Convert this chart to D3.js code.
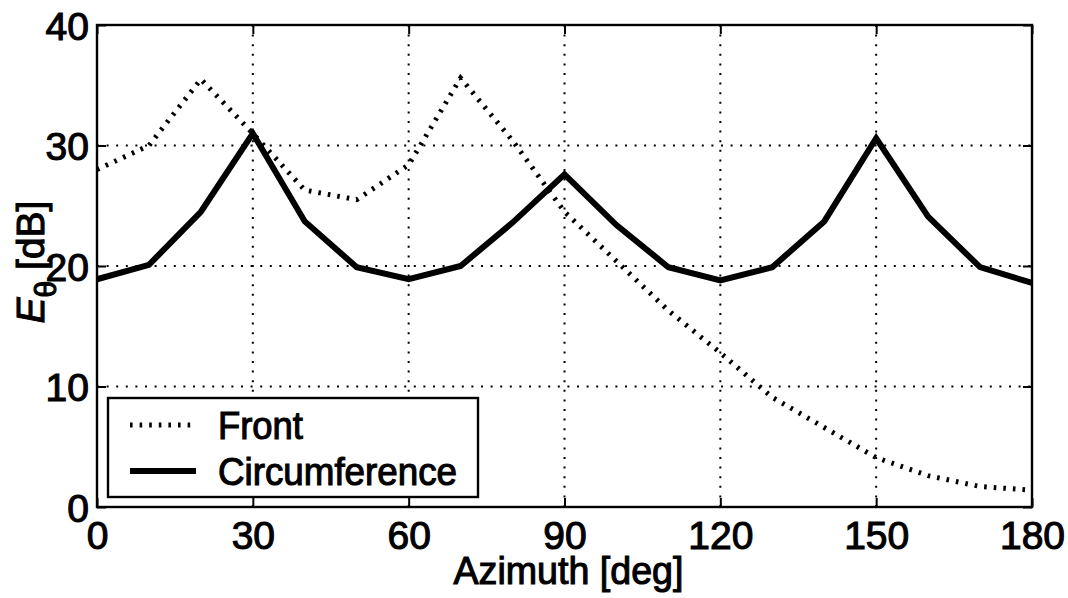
<!DOCTYPE html>
<html>
<head>
<meta charset="utf-8">
<script src="https://cdn.jsdelivr.net/npm/d3@7"></script>
<style>
  html, body { margin: 0; padding: 0; background: #fff; }
  svg { display: block; }
  text { font-family: "Liberation Sans", Arial, Helvetica, sans-serif; fill: #000; }
</style>
</head>
<body>
<svg id="chart" width="1068" height="598"></svg>
<script>
// Azimuth samples (deg)
const azimuth = [0, 10, 20, 30, 40, 50, 60, 70, 80, 90, 100, 110, 120, 130, 140, 150, 160, 170, 180];
// E-theta level, front placement (dB)
const front = [28.0, 30.0, 35.5, 31.0, 26.3, 25.5, 28.4, 35.6, 30.4, 24.5, 20.4, 16.3, 12.8, 9.1, 6.6, 4.1, 2.6, 1.7, 1.4];
// E-theta level, circumferential placement (dB)
const circumference = [18.9, 20.1, 24.5, 31.0, 23.7, 19.9, 18.9, 20.0, 23.6, 27.6, 23.4, 19.9, 18.8, 19.9, 23.7, 30.6, 24.1, 19.9, 18.6];

const xTicks = [0, 30, 60, 90, 120, 150, 180];
const yTicks = [0, 10, 20, 30, 40];
const seriesNames = ["Front", "Circumference"];

const W = 1068, H = 598;
const margin = { top: 25, right: 36, bottom: 91, left: 97 };
const iw = W - margin.left - margin.right;
const ih = H - margin.top - margin.bottom;

const FONT = 39;
const TEXT_STROKE = 1.1;

const svg = d3.select("#chart");
const g = svg.append("g").attr("transform", `translate(${margin.left},${margin.top})`);

const x = d3.scaleLinear().domain([0, 180]).range([0, iw]);
const y = d3.scaleLinear().domain([0, 40]).range([ih, 0]);

// Dotted grid
const gridStyle = sel => sel.attr("stroke", "#000").attr("stroke-width", 2)
  .attr("stroke-dasharray", "2,7.6").attr("stroke-linecap", "butt");
g.append("g").selectAll("line").data(xTicks.slice(1, -1)).join("line")
  .attr("x1", d => x(d)).attr("x2", d => x(d)).attr("y1", 0).attr("y2", ih)
  .call(gridStyle);
g.append("g").selectAll("line").data(yTicks.slice(1, -1)).join("line")
  .attr("x1", 0).attr("x2", iw).attr("y1", d => y(d)).attr("y2", d => y(d))
  .call(gridStyle);

// Axes with inward ticks on all sides
const tickLen = 9;
const axisBottomG = g.append("g").attr("transform", `translate(0,${ih})`)
  .call(d3.axisBottom(x).tickValues(xTicks).tickSizeInner(-tickLen).tickSizeOuter(0).tickPadding(14));
const axisTopG = g.append("g")
  .call(d3.axisTop(x).tickValues(xTicks).tickSizeInner(-tickLen).tickSizeOuter(0).tickFormat(""));
const axisLeftG = g.append("g")
  .call(d3.axisLeft(y).tickValues(yTicks).tickSizeInner(-tickLen).tickSizeOuter(0).tickPadding(8));
const axisRightG = g.append("g").attr("transform", `translate(${iw},0)`)
  .call(d3.axisRight(y).tickValues(yTicks).tickSizeInner(-tickLen).tickSizeOuter(0).tickFormat(""));

[axisBottomG, axisTopG, axisLeftG, axisRightG].forEach(a => {
  a.select(".domain").remove();
  a.selectAll(".tick line").attr("stroke", "#000").attr("stroke-width", 2);
  a.selectAll(".tick text").attr("font-size", FONT).attr("fill", "#000")
    .attr("font-family", "'Liberation Sans', Arial, sans-serif")
    .attr("stroke", "#000").attr("stroke-width", TEXT_STROKE);
});
axisBottomG.selectAll(".tick text").attr("dy", "0.71em");
axisLeftG.selectAll(".tick text").attr("dy", "0.36em");

// Frame
g.append("rect").attr("x", 0).attr("y", 0).attr("width", iw).attr("height", ih)
  .attr("fill", "none").attr("stroke", "#000").attr("stroke-width", 2.4);

// Data lines
const line = d3.line().x((d, i) => x(azimuth[i])).y(d => y(d));
g.append("path").datum(front).attr("d", line)
  .attr("fill", "none").attr("stroke", "#000").attr("stroke-width", 5)
  .attr("stroke-dasharray", "2.6,7").attr("stroke-linecap", "butt");
g.append("path").datum(circumference).attr("d", line)
  .attr("fill", "none").attr("stroke", "#000").attr("stroke-width", 6)
  .attr("stroke-linejoin", "miter").attr("stroke-linecap", "butt");

// Legend
const lg = g.append("g").attr("transform", `translate(${108 - margin.left},${398 - margin.top})`);
lg.append("rect").attr("x", 0).attr("y", 0).attr("width", 370).attr("height", 99)
  .attr("fill", "#fff").attr("stroke", "#000").attr("stroke-width", 2.4);
const legendStyles = [
  { width: 5, dash: "2.6,7", textWidth: 85 },
  { width: 6, dash: null, textWidth: 239 }
];
seriesNames.forEach((name, i) => {
  const cy = 27 + i * 46;
  lg.append("line").attr("x1", 22).attr("x2", 88).attr("y1", cy).attr("y2", cy)
    .attr("stroke", "#000").attr("stroke-width", legendStyles[i].width)
    .attr("stroke-dasharray", legendStyles[i].dash);
  lg.append("text").attr("x", 110).attr("y", cy).attr("dy", "0.36em")
    .attr("font-size", 38).attr("stroke", "#000").attr("stroke-width", TEXT_STROKE)
    .attr("textLength", legendStyles[i].textWidth).attr("lengthAdjust", "spacingAndGlyphs")
    .text(name);
});

// Axis titles
svg.append("text").attr("x", margin.left + iw / 2 + 4).attr("y", 584)
  .attr("text-anchor", "middle").attr("font-size", FONT)
  .attr("stroke", "#000").attr("stroke-width", TEXT_STROKE)
  .attr("textLength", 230).attr("lengthAdjust", "spacingAndGlyphs")
  .text("Azimuth [deg]");

const yl = svg.append("text")
  .attr("transform", "translate(44,262) rotate(-90)")
  .attr("text-anchor", "middle").attr("font-size", FONT)
  .attr("stroke", "#000").attr("stroke-width", TEXT_STROKE);
yl.append("tspan").attr("font-style", "italic").text("E");
yl.append("tspan").attr("font-size", 30).attr("dy", 12).text("θ");
yl.append("tspan").attr("dy", -12).text(" [dB]");
</script>
</body>
</html>
